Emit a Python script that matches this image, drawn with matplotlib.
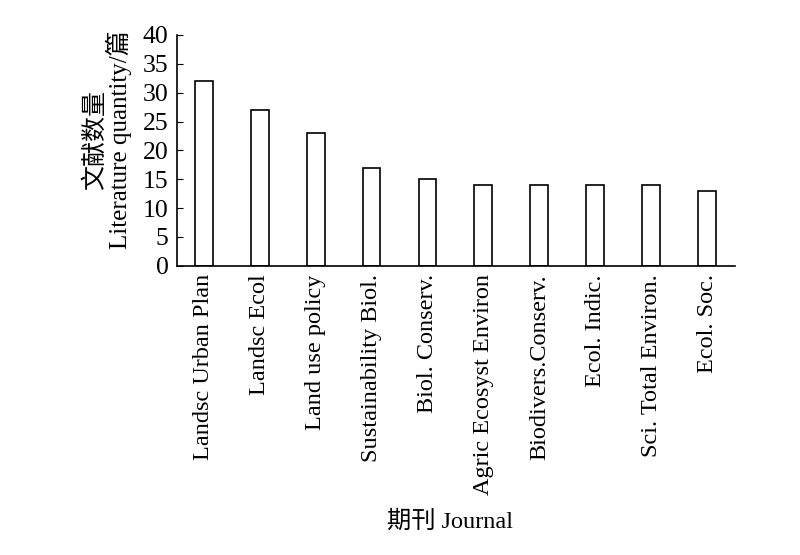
import matplotlib
matplotlib.use('Agg')
import matplotlib.pyplot as plt

plt.rcParams['font.family'] = ['Liberation Serif', 'Noto Sans CJK SC']

journals = ['Landsc Urban Plan', 'Landsc Ecol', 'Land use policy', 'Sustainability Biol.',
            'Biol. Conserv.', 'Agric Ecosyst Environ', 'Biodivers.Conserv.',
            'Ecol. Indic.', 'Sci. Total Environ.', 'Ecol. Soc.']
counts = [32, 27, 23, 17, 15, 14, 14, 14, 14, 13]

fig = plt.figure(figsize=(8, 5.55), dpi=100)
ax = fig.add_axes([0.221, 0.521, 0.698, 0.416])

x = list(range(len(journals)))
ax.bar(x, counts, width=0.32, color='white', edgecolor='black', linewidth=1.2)

ax.set_xlim(-0.48, 9.5)
ax.set_ylim(0, 40)
ax.set_yticks(range(0, 41, 5))
ax.set_xticks(x)
ax.set_xticklabels(journals, rotation=90, fontsize=17.5)
ax.tick_params(axis='y', direction='in', length=4, labelsize=18.5, pad=6)
ax.tick_params(axis='x', length=0, pad=6)

for s in ['top', 'right']:
    ax.spines[s].set_visible(False)
for s in ['left', 'bottom']:
    ax.spines[s].set_linewidth(1.2)

ax.set_ylabel('文献数量\nLiterature quantity/篇', fontsize=18, linespacing=0.95,
              labelpad=8, y=0.545)
ax.set_xlabel('期刊 Journal', fontsize=17.5, labelpad=11, x=0.489)

fig.savefig('out.png', dpi=100)
